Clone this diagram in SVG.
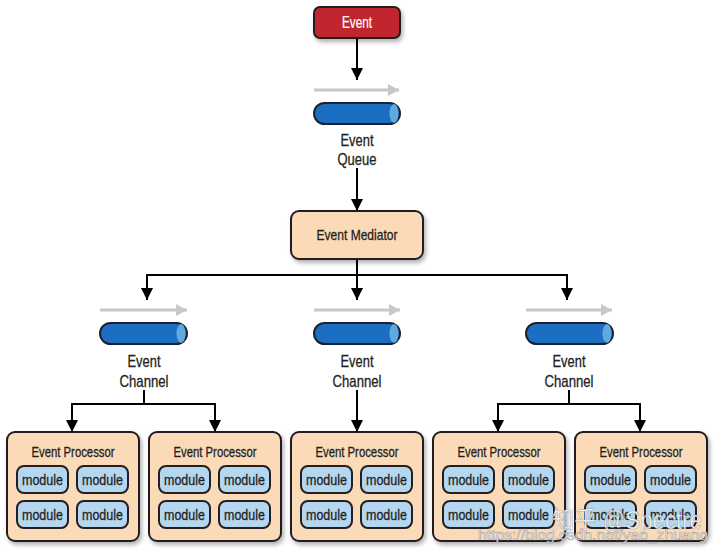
<svg xmlns="http://www.w3.org/2000/svg" width="720" height="555" viewBox="0 0 720 555">
<defs>
<filter id="sh" x="-10%" y="-10%" width="130%" height="140%">
<feDropShadow dx="2" dy="3" stdDeviation="2.2" flood-color="#000" flood-opacity="0.3"/>
</filter>
<marker id="ah" markerUnits="userSpaceOnUse" markerWidth="12" markerHeight="12" refX="12" refY="6" orient="auto">
<path d="M0,0 L12,6 L0,12 z" fill="#000"/>
</marker>
<marker id="gh" markerUnits="userSpaceOnUse" markerWidth="11" markerHeight="12" refX="11" refY="6" orient="auto">
<path d="M0,0 L11,6 L0,12 z" fill="#c8c8c8"/>
</marker>
</defs>
<style>
text{font-family:"Liberation Sans Narrow","Liberation Sans",sans-serif;text-anchor:middle;fill:#231f20;stroke:#231f20;stroke-width:0.3}
.box{stroke:#231f20;stroke-width:2}
.ev{fill:#c1272d}
.med{fill:#fbdab7}
.mod{fill:#b5d6ef}
.pipe{fill:#1c6ec2;stroke:#1a2230;stroke-width:2}
.cap{fill:#5fa9df}
.con{stroke:#000;stroke-width:2;fill:none}
.gray{stroke:#c8c8c8;stroke-width:3;fill:none}
.lbl{font-size:17px}
.t14{font-size:15px}
.wm{fill:#ffffff;fill-opacity:0.92;stroke:#8a8a8a;stroke-opacity:0.7;stroke-width:0.7;text-anchor:start;font-family:"Liberation Sans","Noto Sans CJK SC",sans-serif}
</style>

<g id="connectors">
<path class="con" d="M357,38 V80" marker-end="url(#ah)"/>
<path class="con" d="M357,168 V211" marker-end="url(#ah)"/>
<path class="con" d="M357,259 V300" marker-end="url(#ah)"/>
<path class="con" d="M146,275 H568"/>
<path class="con" d="M147,275 V300" marker-end="url(#ah)"/>
<path class="con" d="M567,275 V300" marker-end="url(#ah)"/>
<path class="con" d="M144,390 V404"/>
<path class="con" d="M71,404 H216"/>
<path class="con" d="M72,404 V432" marker-end="url(#ah)"/>
<path class="con" d="M215,404 V432" marker-end="url(#ah)"/>
<path class="con" d="M357,390 V432" marker-end="url(#ah)"/>
<path class="con" d="M569,390 V404"/>
<path class="con" d="M497,404 H641"/>
<path class="con" d="M498,404 V432" marker-end="url(#ah)"/>
<path class="con" d="M640,404 V432" marker-end="url(#ah)"/>
<path class="gray" d="M314,90 H399" marker-end="url(#gh)"/>
<path class="gray" d="M100,310 H187" marker-end="url(#gh)"/>
<path class="gray" d="M314,310 H400" marker-end="url(#gh)"/>
<path class="gray" d="M526,310 H612" marker-end="url(#gh)"/>
</g>

<g id="event">
<rect class="box ev" x="314" y="7" width="86" height="31" rx="6" filter="url(#sh)"/>
<text x="357" y="28" font-size="16" style="fill:#fff;stroke:#fff;stroke-width:0.2" textLength="30" lengthAdjust="spacingAndGlyphs">Event</text>
</g>

<g id="event-queue">
<rect class="pipe" x="314" y="103" width="86" height="21" rx="10.5"/>
<ellipse class="cap" cx="394" cy="113.5" rx="4.5" ry="9.5"/>
<text class="lbl" x="357" y="146" textLength="33" lengthAdjust="spacingAndGlyphs">Event</text>
<text class="lbl" x="357" y="165" textLength="39" lengthAdjust="spacingAndGlyphs">Queue</text>
</g>

<g id="event-mediator">
<rect class="box med" x="291" y="211" width="132" height="48" rx="8" filter="url(#sh)"/>
<text class="t14" x="357" y="240" textLength="81" lengthAdjust="spacingAndGlyphs">Event Mediator</text>
</g>

<g id="channel-1">
<rect class="pipe" x="100" y="323" width="87" height="21" rx="10.5"/>
<ellipse class="cap" cx="181" cy="333.5" rx="4.5" ry="9.5"/>
<text class="lbl" x="144" y="367" textLength="33" lengthAdjust="spacingAndGlyphs">Event</text>
<text class="lbl" x="144" y="387" textLength="49" lengthAdjust="spacingAndGlyphs">Channel</text>
</g>

<g id="channel-2">
<rect class="pipe" x="314" y="323" width="86" height="21" rx="10.5"/>
<ellipse class="cap" cx="394" cy="333.5" rx="4.5" ry="9.5"/>
<text class="lbl" x="357" y="367" textLength="33" lengthAdjust="spacingAndGlyphs">Event</text>
<text class="lbl" x="357" y="387" textLength="49" lengthAdjust="spacingAndGlyphs">Channel</text>
</g>

<g id="channel-3">
<rect class="pipe" x="526" y="323" width="87" height="21" rx="10.5"/>
<ellipse class="cap" cx="607" cy="333.5" rx="4.5" ry="9.5"/>
<text class="lbl" x="569" y="367" textLength="33" lengthAdjust="spacingAndGlyphs">Event</text>
<text class="lbl" x="569" y="387" textLength="49" lengthAdjust="spacingAndGlyphs">Channel</text>
</g>

<g id="processor-1">
<rect class="box med" x="7" y="432" width="132" height="109" rx="8" filter="url(#sh)"/>
<text class="t14" x="73" y="457" textLength="83" lengthAdjust="spacingAndGlyphs">Event Processor</text>
<rect class="box mod" x="17" y="466" width="51" height="27" rx="7"/>
<rect class="box mod" x="77" y="466" width="51" height="27" rx="7"/>
<rect class="box mod" x="17" y="501" width="51" height="27" rx="7"/>
<rect class="box mod" x="77" y="501" width="51" height="27" rx="7"/>
<text class="t14" x="42.5" y="485" textLength="41" lengthAdjust="spacingAndGlyphs">module</text>
<text class="t14" x="102.5" y="485" textLength="41" lengthAdjust="spacingAndGlyphs">module</text>
<text class="t14" x="42.5" y="520" textLength="41" lengthAdjust="spacingAndGlyphs">module</text>
<text class="t14" x="102.5" y="520" textLength="41" lengthAdjust="spacingAndGlyphs">module</text>
</g>

<g id="processor-2">
<rect class="box med" x="149" y="432" width="132" height="109" rx="8" filter="url(#sh)"/>
<text class="t14" x="215" y="457" textLength="83" lengthAdjust="spacingAndGlyphs">Event Processor</text>
<rect class="box mod" x="159" y="466" width="51" height="27" rx="7"/>
<rect class="box mod" x="219" y="466" width="51" height="27" rx="7"/>
<rect class="box mod" x="159" y="501" width="51" height="27" rx="7"/>
<rect class="box mod" x="219" y="501" width="51" height="27" rx="7"/>
<text class="t14" x="184.5" y="485" textLength="41" lengthAdjust="spacingAndGlyphs">module</text>
<text class="t14" x="244.5" y="485" textLength="41" lengthAdjust="spacingAndGlyphs">module</text>
<text class="t14" x="184.5" y="520" textLength="41" lengthAdjust="spacingAndGlyphs">module</text>
<text class="t14" x="244.5" y="520" textLength="41" lengthAdjust="spacingAndGlyphs">module</text>
</g>

<g id="processor-3">
<rect class="box med" x="291" y="432" width="132" height="109" rx="8" filter="url(#sh)"/>
<text class="t14" x="357" y="457" textLength="83" lengthAdjust="spacingAndGlyphs">Event Processor</text>
<rect class="box mod" x="301" y="466" width="51" height="27" rx="7"/>
<rect class="box mod" x="361" y="466" width="51" height="27" rx="7"/>
<rect class="box mod" x="301" y="501" width="51" height="27" rx="7"/>
<rect class="box mod" x="361" y="501" width="51" height="27" rx="7"/>
<text class="t14" x="326.5" y="485" textLength="41" lengthAdjust="spacingAndGlyphs">module</text>
<text class="t14" x="386.5" y="485" textLength="41" lengthAdjust="spacingAndGlyphs">module</text>
<text class="t14" x="326.5" y="520" textLength="41" lengthAdjust="spacingAndGlyphs">module</text>
<text class="t14" x="386.5" y="520" textLength="41" lengthAdjust="spacingAndGlyphs">module</text>
</g>

<g id="processor-4">
<rect class="box med" x="433" y="432" width="132" height="109" rx="8" filter="url(#sh)"/>
<text class="t14" x="499" y="457" textLength="83" lengthAdjust="spacingAndGlyphs">Event Processor</text>
<rect class="box mod" x="443" y="466" width="51" height="27" rx="7"/>
<rect class="box mod" x="503" y="466" width="51" height="27" rx="7"/>
<rect class="box mod" x="443" y="501" width="51" height="27" rx="7"/>
<rect class="box mod" x="503" y="501" width="51" height="27" rx="7"/>
<text class="t14" x="468.5" y="485" textLength="41" lengthAdjust="spacingAndGlyphs">module</text>
<text class="t14" x="528.5" y="485" textLength="41" lengthAdjust="spacingAndGlyphs">module</text>
<text class="t14" x="468.5" y="520" textLength="41" lengthAdjust="spacingAndGlyphs">module</text>
<text class="t14" x="528.5" y="520" textLength="41" lengthAdjust="spacingAndGlyphs">module</text>
</g>

<g id="processor-5">
<rect class="box med" x="575" y="432" width="132" height="109" rx="8" filter="url(#sh)"/>
<text class="t14" x="641" y="457" textLength="83" lengthAdjust="spacingAndGlyphs">Event Processor</text>
<rect class="box mod" x="585" y="466" width="51" height="27" rx="7"/>
<rect class="box mod" x="645" y="466" width="51" height="27" rx="7"/>
<rect class="box mod" x="585" y="501" width="51" height="27" rx="7"/>
<rect class="box mod" x="645" y="501" width="51" height="27" rx="7"/>
<text class="t14" x="610.5" y="485" textLength="41" lengthAdjust="spacingAndGlyphs">module</text>
<text class="t14" x="670.5" y="485" textLength="41" lengthAdjust="spacingAndGlyphs">module</text>
<text class="t14" x="610.5" y="520" textLength="41" lengthAdjust="spacingAndGlyphs">module</text>
<text class="t14" x="670.5" y="520" textLength="41" lengthAdjust="spacingAndGlyphs">module</text>
</g>

<g id="watermark">
<text class="wm" x="552" y="529" font-size="25" textLength="150" lengthAdjust="spacingAndGlyphs">知乎 @Spectre</text>
<text class="wm" x="478" y="540" font-size="15" textLength="230" lengthAdjust="spacingAndGlyphs">https://blog.csdn.net/yao_zhuang</text>
</g>
</svg>
